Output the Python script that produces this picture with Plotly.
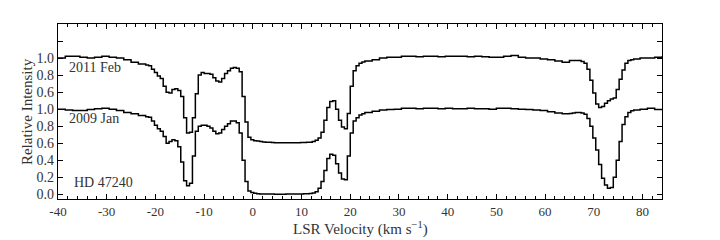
import plotly.graph_objects as go

# Velocity grid (km/s): coarse in continuum, fine across absorption features
velocity = [
    -40.0, -38.5, -37.0, -35.5, -34.0, -32.5, -31.0, -29.5, -28.0, -26.5, -25.0, -23.5,
    -22.0, -21.4, -20.8, -20.2, -19.6, -19.0, -18.4, -17.8, -17.2, -16.6,
    -16.0, -15.4, -14.8, -14.2, -13.6, -13.0, -12.4, -11.8, -11.2, -10.6,
    -10.0, -9.4, -8.8, -8.2, -7.6, -7.0, -6.4, -5.8, -5.2, -4.6,
    -4.0, -3.4, -2.8, -2.2, -1.6, -1.0, -0.4, 0.2, 0.8, 1.4,
    2.0, 2.6, 3.2, 3.8, 4.4, 5.0, 5.6, 6.2, 6.8, 7.4,
    8.0, 8.6, 9.2, 9.8, 10.4, 11.0, 11.6, 12.2, 12.8, 13.4,
    14.0, 14.6, 15.2, 15.8, 16.4, 17.0, 17.6, 18.2, 18.8, 19.4,
    20.0, 20.6, 21.2, 21.8, 22.4, 23.0,
    24.5, 26.0, 27.5, 29.0, 30.5, 32.0, 33.5, 35.0, 36.5, 38.0,
    39.5, 41.0, 42.5, 44.0, 45.5, 47.0, 48.5, 50.0, 51.5, 53.0,
    54.5, 56.0, 57.5, 59.0, 60.5, 62.0, 63.5, 65.0,
    65.6, 66.2, 66.8, 67.4, 68.0, 68.6, 69.2, 69.8, 70.4, 71.0,
    71.6, 72.2, 72.8, 73.4, 74.0, 74.6, 75.2, 75.8, 76.4, 77.0,
    77.6, 78.2,
    79.5, 81.0, 82.5, 84.0,
]

# 2011 Feb spectrum (relative intensity, plotted with +0.6 offset)
feb2011 = [
    1.00, 1.02, 1.02, 1.01, 1.00, 1.01, 1.02, 1.01, 1.00, 0.98, 0.95, 0.93,
    0.92, 0.91, 0.87, 0.83, 0.79, 0.76, 0.67, 0.60, 0.59, 0.63,
    0.64, 0.62, 0.55, 0.30, 0.12, 0.13, 0.30, 0.58, 0.80, 0.83,
    0.82, 0.82, 0.81, 0.77, 0.73, 0.72, 0.76, 0.82, 0.85, 0.88,
    0.89, 0.88, 0.84, 0.55, 0.25, 0.07, 0.04, 0.03, 0.025, 0.02,
    0.015, 0.012, 0.010, 0.008, 0.007, 0.007, 0.006, 0.006, 0.007, 0.006,
    0.006, 0.007, 0.007, 0.008, 0.008, 0.010, 0.012, 0.020, 0.035, 0.060,
    0.13, 0.27, 0.42, 0.49, 0.50, 0.40, 0.27, 0.19, 0.17, 0.35,
    0.67, 0.85, 0.91, 0.94, 0.955, 0.965,
    0.98, 1.00, 1.01, 1.01, 1.02, 1.02, 1.015, 1.02, 1.02, 1.015,
    1.02, 1.02, 1.02, 1.015, 1.02, 1.015, 1.01, 1.01, 1.02, 1.03,
    1.01, 1.00, 1.00, 0.99, 0.98, 0.965, 0.95, 0.97,
    0.97, 0.97, 0.97, 0.96, 0.94, 0.87, 0.74, 0.59, 0.46, 0.42,
    0.43, 0.47, 0.50, 0.52, 0.53, 0.63, 0.75, 0.86, 0.94, 0.97,
    0.98, 0.99,
    1.00, 1.00, 1.01, 1.02,
]

# 2009 Jan spectrum (relative intensity)
jan2009 = [
    1.00, 0.99, 0.985, 0.985, 0.995, 1.005, 1.01, 1.00, 0.985, 0.96, 0.945, 0.925,
    0.91, 0.905, 0.86, 0.81, 0.77, 0.74, 0.68, 0.60, 0.62, 0.64,
    0.63, 0.56, 0.38, 0.16, 0.10, 0.13, 0.45, 0.74, 0.80, 0.81,
    0.81, 0.80, 0.78, 0.74, 0.71, 0.72, 0.76, 0.80, 0.83, 0.86,
    0.86, 0.84, 0.72, 0.40, 0.15, 0.04, 0.02, 0.012, 0.008, 0.005,
    0.004, 0.003, 0.003, 0.003, 0.002, 0.002, 0.002, 0.002, 0.003, 0.003,
    0.003, 0.004, 0.004, 0.005, 0.006, 0.007, 0.010, 0.015, 0.030, 0.070,
    0.15, 0.28, 0.42, 0.47, 0.46, 0.36, 0.25, 0.18, 0.17, 0.45,
    0.72, 0.86, 0.90, 0.93, 0.945, 0.96,
    0.975, 0.99, 0.995, 1.00, 1.01, 1.01, 1.005, 1.01, 1.01, 1.005,
    1.01, 1.005, 1.005, 1.01, 1.005, 1.005, 1.00, 1.01, 1.01, 1.005,
    1.00, 0.995, 0.99, 0.985, 0.97, 0.955, 0.945, 0.95,
    0.955, 0.96, 0.96, 0.955, 0.94, 0.89, 0.80, 0.66, 0.52, 0.35,
    0.19, 0.11, 0.07, 0.08, 0.20, 0.40, 0.62, 0.82, 0.91, 0.96,
    0.98, 0.99,
    1.00, 1.01, 0.995, 0.995,
]

offset = 0.6
ytick_vals = [0.0, 0.2, 0.4, 0.6, 0.8, 1.0, 1.2, 1.4, 1.6]
ytick_text = ["0.0", "0.2", "0.4", "0.6", "0.8", "1.0", "0.6", "0.8", "1.0"]
ytick_unlabeled = [1.8, 2.0]
xtick_vals = [-40, -30, -20, -10, 0, 10, 20, 30, 40, 50, 60, 70, 80]
xtick_text = ["-40", "-30", "-20", "-10", "0", "10", "20", "30", "40", "50", "60", "70", "80"]

FONT = "Liberation Serif"
TXT = "#333333"

fig = go.Figure()
fig.add_trace(go.Scatter(x=velocity, y=[v + offset for v in feb2011], mode="lines",
                         line=dict(color="black", width=1.5, shape="hv"), showlegend=False))
fig.add_trace(go.Scatter(x=velocity, y=jan2009, mode="lines",
                         line=dict(color="black", width=1.5, shape="hv"), showlegend=False))

for txt, xv, yv in [("2011 Feb", -38.2, 1.49), ("2009 Jan", -38.2, 0.885), ("HD 47240", -37.2, 0.14)]:
    fig.add_annotation(x=xv, y=yv, text=txt, showarrow=False, xanchor="left", yanchor="middle",
                       font=dict(family=FONT, size=14, color=TXT))

# axis titles
fig.add_annotation(xref="paper", yref="paper", x=0.5, y=-0.168, text="LSR Velocity (km s<sup>−1</sup>)",
                   showarrow=False, xanchor="center", yanchor="middle",
                   font=dict(family=FONT, size=15, color=TXT))
fig.add_annotation(xref="paper", yref="paper", x=-0.052, y=0.5, text="Relative Intensity", textangle=-90,
                   showarrow=False, xanchor="center", yanchor="middle",
                   font=dict(family=FONT, size=15, color=TXT))

# the page body adds an 8px offset, margins compensate
fig.update_layout(
    width=720, height=240,
    margin=dict(l=50, r=66, t=16, b=49),
    paper_bgcolor="white", plot_bgcolor="white",
    font=dict(family=FONT, size=13, color=TXT),
)
fig.update_xaxes(
    range=[-40, 84], tickmode="array", tickvals=xtick_vals, ticktext=xtick_text,
    ticks="inside", ticklen=5, tickwidth=1, tickcolor="black",
    minor=dict(dtick=2, tick0=-40, ticks="inside", ticklen=3, tickwidth=1, tickcolor="black"),
    showline=True, linecolor="black", linewidth=1.3, mirror="ticks",
    showgrid=False, zeroline=False, automargin=False,
    tickfont=dict(family=FONT, size=13, color=TXT),
)
fig.update_yaxes(
    range=[-0.055, 2.0], tickmode="array", tickvals=ytick_vals, ticktext=ytick_text,
    ticks="inside", ticklen=5, tickwidth=1, tickcolor="black",
    minor=dict(tickvals=ytick_unlabeled, ticks="inside", ticklen=5, tickwidth=1, tickcolor="black"),
    showline=True, linecolor="black", linewidth=1.3, mirror="ticks",
    showgrid=False, zeroline=False, automargin=False,
    tickfont=dict(family=FONT, size=14, color=TXT),
)

fig.write_html("out.html")
